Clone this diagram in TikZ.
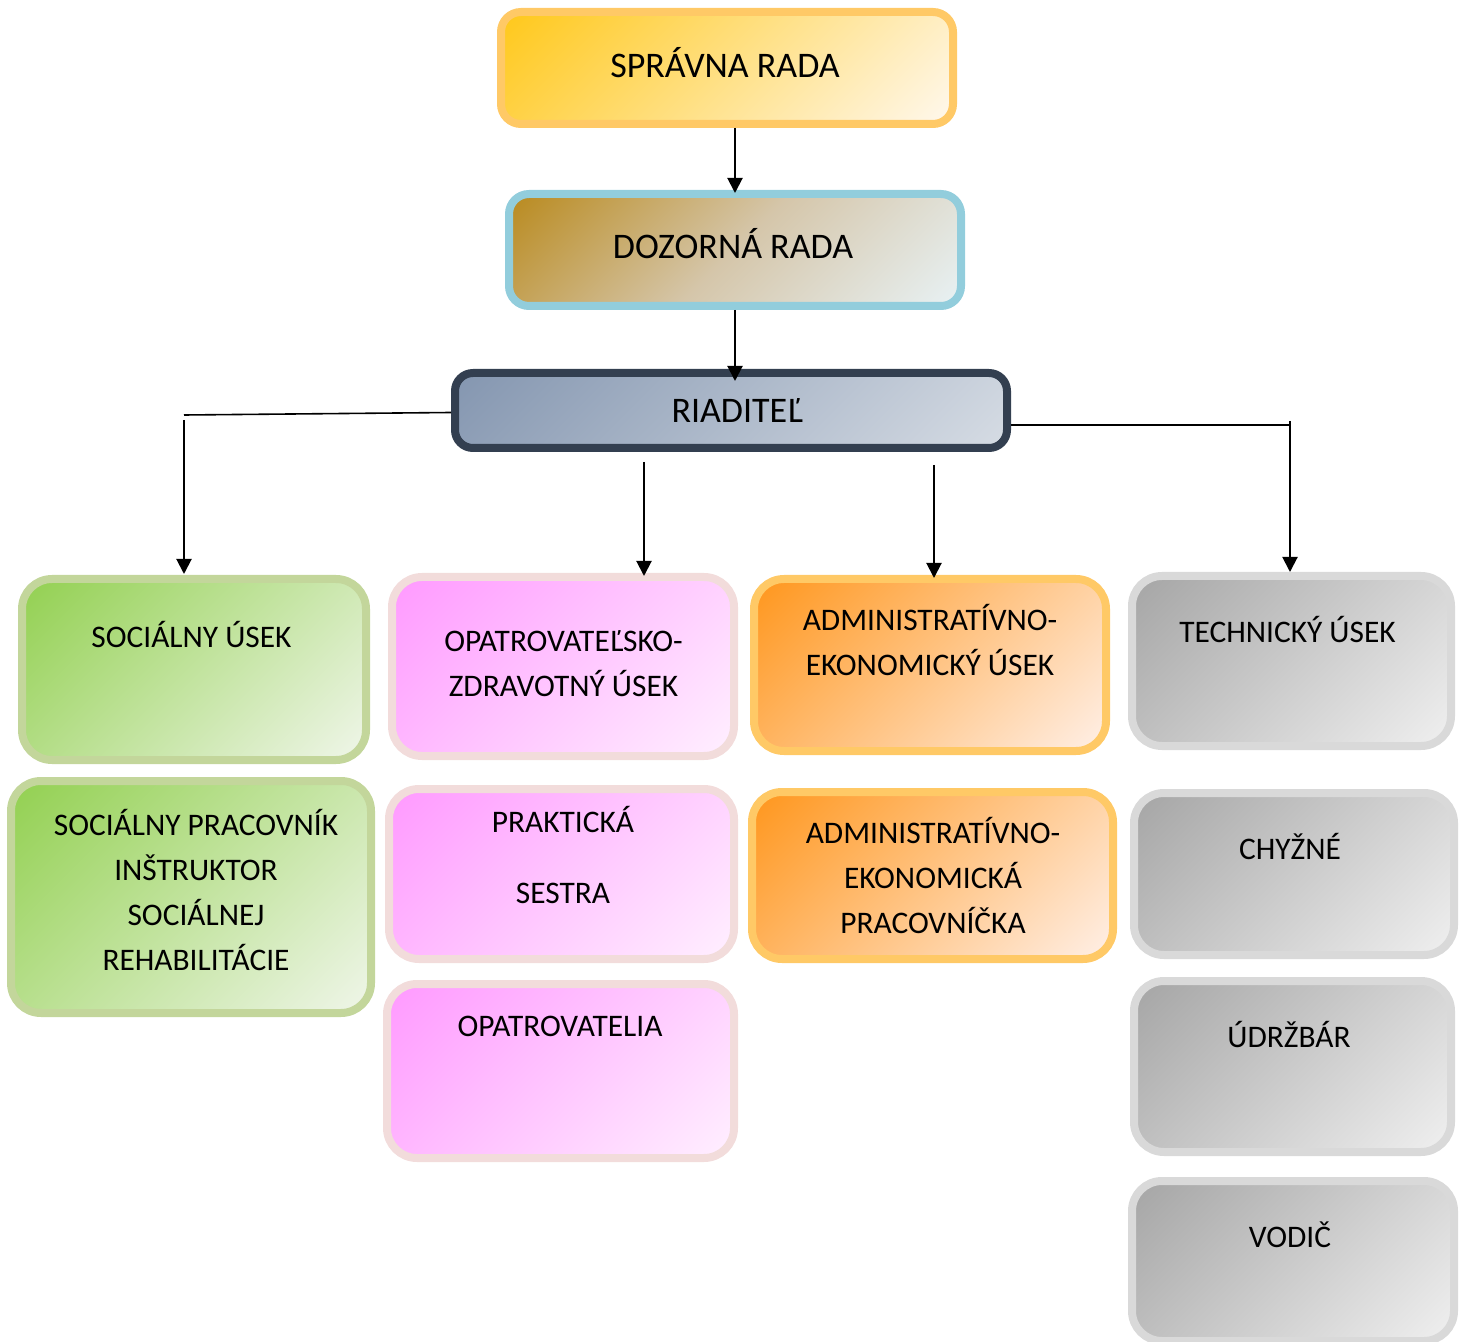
\documentclass[tikz,border=0pt]{standalone}
\usepackage{fontspec}
\setmainfont{Carlito}
\usetikzlibrary{arrows.meta}
\definecolor{srB}{HTML}{FFC966}
\definecolor{srA}{HTML}{FFC81A}
\definecolor{srC}{HTML}{FFF8EE}
\definecolor{drB}{HTML}{92CDDC}
\definecolor{drA}{HTML}{B98A1E}
\definecolor{drM}{HTML}{D5C6AA}
\definecolor{drC}{HTML}{E8F2F5}
\definecolor{riB}{HTML}{333F50}
\definecolor{riA}{HTML}{8496B0}
\definecolor{riC}{HTML}{D6DCE4}
\definecolor{grB}{HTML}{C3D69B}
\definecolor{grA}{HTML}{92D050}
\definecolor{grC}{HTML}{F0F6EA}
\definecolor{pkB}{HTML}{F2DCDB}
\definecolor{pkA}{HTML}{FF99FF}
\definecolor{pkC}{HTML}{FFF0FF}
\definecolor{orB}{HTML}{FFC966}
\definecolor{orA}{HTML}{FF961C}
\definecolor{orC}{HTML}{FFF0E8}
\definecolor{gyB}{HTML}{D9D9D9}
\definecolor{gyA}{HTML}{A5A5A5}
\definecolor{gyC}{HTML}{F0F0F0}
\pgfdeclareverticalshading{srS}{100bp}{color(0bp)=(srC); color(14.6bp)=(srC); color(85.4bp)=(srA); color(100bp)=(srA)}
\pgfdeclareverticalshading{drS}{100bp}{color(0bp)=(drC); color(14.6bp)=(drC); color(50bp)=(drM); color(85.4bp)=(drA); color(100bp)=(drA)}
\pgfdeclareverticalshading{riS}{100bp}{color(0bp)=(riC); color(14.6bp)=(riC); color(85.4bp)=(riA); color(100bp)=(riA)}
\pgfdeclareverticalshading{grS}{100bp}{color(0bp)=(grC); color(14.6bp)=(grC); color(85.4bp)=(grA); color(100bp)=(grA)}
\pgfdeclareverticalshading{pkS}{100bp}{color(0bp)=(pkC); color(14.6bp)=(pkC); color(85.4bp)=(pkA); color(100bp)=(pkA)}
\pgfdeclareverticalshading{orS}{100bp}{color(0bp)=(orC); color(14.6bp)=(orC); color(85.4bp)=(orA); color(100bp)=(orA)}
\pgfdeclareverticalshading{gyS}{100bp}{color(0bp)=(gyC); color(14.6bp)=(gyC); color(85.4bp)=(gyA); color(100bp)=(gyA)}
\newcommand{\boxlines}[1]{\begin{tabular}[t]{@{}c@{}}#1\end{tabular}}
\tikzset{
  rbox/.style={rectangle, rounded corners=15pt, line width=4pt, inner sep=0pt},
  tbox/.style={rbox, rounded corners=10pt},
  sprava/.style={draw=srB, shade, shading=srS, shading angle=45},
  dozor/.style={draw=drB, shade, shading=drS, shading angle=45},
  riad/.style={draw=riB, shade, shading=riS, shading angle=45},
  green/.style={draw=grB, shade, shading=grS, shading angle=45},
  pink/.style={draw=pkB, shade, shading=pkS, shading angle=45},
  orange/.style={draw=orB, shade, shading=orS, shading angle=45},
  gray/.style={draw=gyB, shade, shading=gyS, shading angle=45},
  toptxt/.style={anchor=base, inner sep=0pt, font=\fontsize{18pt}{22pt}\selectfont},
  rowtxt/.style={anchor=base, inner sep=0pt, font=\fontsize{15.7pt}{22.5pt}\selectfont},
  arr/.style={-{Triangle[length=7.5pt,width=7.5pt]}, line width=1pt},
  conn/.style={line width=0.8pt},
}
\begin{document}
\begin{tikzpicture}[x=0.5pt, y=-0.5pt]
\useasboundingbox (0,0) rectangle (1463,1342);
% top boxes
\node[tbox, sprava, minimum width=226pt, minimum height=56pt] (SR) at (727,68) {};
\node[tbox, dozor, minimum width=226pt, minimum height=56pt] (DR) at (735,250) {};
\node[tbox, riad, rounded corners=9pt, minimum width=276pt, minimum height=37.5pt] (RI) at (731,410.5) {};
\node[toptxt] (SRt) at (725,77.6) {\boxlines{SPRÁVNA RADA}};
\node[toptxt] (DRt) at (733,258.6) {\boxlines{DOZORNÁ RADA}};
\node[toptxt] (RIt) at (737,422.6) {\boxlines{RIADITEĽ}};
% row 1
\node[rbox, green, minimum width=172pt, minimum height=90.5pt] (SU) at (194,669.5) {};
\node[rbox, pink, minimum width=171pt, minimum height=89.5pt] (OZ) at (563,666.5) {};
\node[rbox, orange, minimum width=176pt, minimum height=86pt] (AE) at (930,665) {};
\node[rbox, gray, minimum width=159.5pt, minimum height=85pt] (TU) at (1291.5,661) {};
% row 2
\node[rbox, green, minimum width=180pt, minimum height=116pt] (SP) at (191,897) {};
\node[rbox, pink, minimum width=172.5pt, minimum height=85pt] (PS) at (561.5,874) {};
\node[rbox, orange, minimum width=180.5pt, minimum height=83.5pt] (AP) at (932.5,875.5) {};
\node[rbox, gray, minimum width=160pt, minimum height=81pt] (CH) at (1294,874) {};
% row 3, 4
\node[rbox, pink, minimum width=173.5pt, minimum height=87pt] (OP) at (560.5,1071) {};
\node[rbox, gray, minimum width=158.5pt, minimum height=85.5pt] (UD) at (1292.5,1066.5) {};
\node[rbox, gray, minimum width=161pt, minimum height=80pt] (VO) at (1293,1261) {};
% texts
\node[rowtxt] (SUt) at (191.5,647) {\boxlines{SOCIÁLNY ÚSEK}};
\node[rowtxt] (OZt) at (563.5,652) {\boxlines{OPATROVATEĽSKO-\\ZDRAVOTNÝ ÚSEK}};
\node[rowtxt] (AEt) at (930,631) {\boxlines{ADMINISTRATÍVNO-\\EKONOMICKÝ ÚSEK}};
\node[rowtxt] (TUt) at (1287.5,643) {\boxlines{TECHNICKÝ ÚSEK}};
\node[rowtxt] (SPt) at (196,835) {\boxlines{SOCIÁLNY PRACOVNÍK\\INŠTRUKTOR\\SOCIÁLNEJ\\REHABILITÁCIE}};
\node[rowtxt] (PSt) at (563,832) {\boxlines{PRAKTICKÁ\\[13.5pt]SESTRA}};
\node[rowtxt] (APt) at (933,843) {\boxlines{ADMINISTRATÍVNO-\\EKONOMICKÁ\\PRACOVNÍČKA}};
\node[rowtxt] (CHt) at (1290,859) {\boxlines{CHYŽNÉ}};
\node[rowtxt] (OPt) at (560,1036) {\boxlines{OPATROVATELIA}};
\node[rowtxt] (UDt) at (1289,1047) {\boxlines{ÚDRŽBÁR}};
\node[rowtxt] (VOt) at (1290,1247) {\boxlines{VODIČ}};
% connectors
\draw[arr] (SR.south -| DR.north) -- ([yshift=-1.5pt]DR.north);
\draw[arr] (DR.south) -- ([yshift=-6pt]RI.north -| DR.south);
\coordinate (lh) at (184,415);
\coordinate (lv) at (184,420);
\coordinate (rh) at (1290,425);
\coordinate (rv) at (1290,421);
\coordinate (m1) at (644,462);
\coordinate (m2) at (934,465);
\draw[conn] ([yshift=-1pt]RI.west) -- (lh);
\draw[arr] (lv) -- ([yshift=0.5pt]lv |- SU.north);
\draw[conn] (RI.east |- rh) -- (rh);
\draw[arr] (rv) -- (rv |- TU.north);
\draw[arr] (m1) -- ([yshift=-1.5pt]m1 |- OZ.north);
\draw[arr] (m2) -- ([yshift=-1.5pt]m2 |- AE.north);
\end{tikzpicture}
\end{document}
